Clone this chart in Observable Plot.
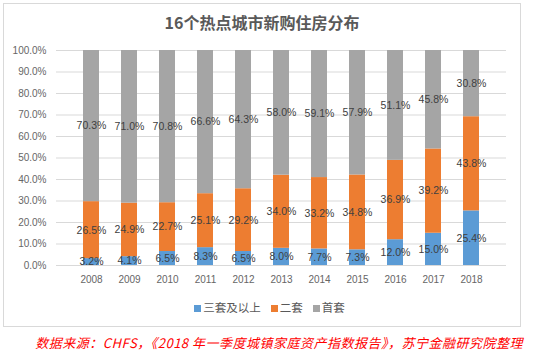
<!DOCTYPE html>
<html>
<head>
<meta charset="utf-8">
<script src="https://cdn.jsdelivr.net/npm/d3@7"></script>
<script src="https://cdn.jsdelivr.net/npm/@observablehq/plot@0.6"></script>
<style>
  html, body { margin: 0; padding: 0; background: #fff; }
  #wrap { position: relative; width: 535px; height: 353px; overflow: hidden; font-family: "Liberation Sans", "Noto Sans CJK SC", sans-serif; }
  #frame { position: absolute; left: 3px; top: 3px; width: 518px; height: 324px; border: 1px solid #d9d9d9; box-sizing: border-box; }
  #title { position: absolute; left: 3px; width: 518px; top: 11px; text-align: center; font-family: "Noto Sans CJK SC", sans-serif; font-weight: bold; font-size: 16px; color: #595959; line-height: 22px; }
  #chart { position: absolute; left: 0; top: 40px; }
  #legend { position: absolute; top: 298px; left: 0; width: 535px; text-align: center; font-family: "Noto Sans CJK SC", sans-serif; font-size: 11.5px; color: #595959; line-height: 18px; padding-left: 4px; box-sizing: border-box; }
  #legend span.item { display: inline-block; margin: 0 5px; }
  #legend span.sw { display: inline-block; width: 7px; height: 7px; margin-right: 2px; vertical-align: 0px; }
  #caption { position: absolute; right: 12px; top: 334px; font-family: "Noto Sans CJK SC", sans-serif; font-style: italic; font-size: 13px; letter-spacing: 0.5px; color: #ff0000; line-height: 18px; white-space: nowrap; }
</style>
</head>
<body>
<div id="wrap">
  <div id="frame"></div>
  <div id="title">16个热点城市新购住房分布</div>
  <div id="chart"></div>
  <div id="legend"></div>
  <div id="caption">数据来源：CHFS，《2018 年一季度城镇家庭资产指数报告》，苏宁金融研究院整理</div>
</div>
<script>
const years = ["2008","2009","2010","2011","2012","2013","2014","2015","2016","2017","2018"];
const thirdPlus = [3.2, 4.1, 6.5, 8.3, 6.5, 8.0, 7.7, 7.3, 12.0, 15.0, 25.4];
const second = [26.5, 24.9, 22.7, 25.1, 29.2, 34.0, 33.2, 34.8, 36.9, 39.2, 43.8];
const first = [70.3, 71.0, 70.8, 66.6, 64.3, 58.0, 59.1, 57.9, 51.1, 45.8, 30.8];
const seriesNames = ["三套及以上", "二套", "首套"];
const seriesColors = ["#5b9bd5", "#ed7d31", "#a5a5a5"];
const yTicks = [0, 10, 20, 30, 40, 50, 60, 70, 80, 90, 100];

const seriesValues = [thirdPlus, second, first];
const data = [];
seriesNames.forEach((s, si) => {
  years.forEach((y, i) => data.push({year: y, series: s, value: seriesValues[si][i]}));
});

const fmt = v => v.toFixed(1) + "%";

const chart = Plot.plot({
  width: 535,
  height: 255,
  marginTop: 10,
  marginBottom: 30,
  marginLeft: 56,
  marginRight: 29,
  style: { fontFamily: "Liberation Sans, Noto Sans CJK SC, sans-serif", fontSize: "10px", color: "#666666", background: "transparent" },
  x: { domain: years, padding: 0.585, tickSize: 0, tickPadding: 10, label: null },
  y: { domain: [0, 100], ticks: yTicks, tickSize: 0, tickPadding: 10, tickFormat: fmt, label: null },
  color: { domain: seriesNames, range: seriesColors },
  marks: [
    Plot.ruleY(yTicks, { stroke: "#d9d9d9", strokeWidth: 1 }),
    Plot.barY(data, Plot.stackY({ x: "year", y: "value", fill: "series", order: seriesNames })),
    Plot.text(data, Plot.stackY({ x: "year", y: "value", z: "series", order: seriesNames, text: d => fmt(d.value), fill: "#404040", fontSize: 10.5 }))
  ]
});
document.getElementById("chart").appendChild(chart);

const legend = document.getElementById("legend");
seriesNames.forEach((s, i) => {
  const item = document.createElement("span");
  item.className = "item";
  const sw = document.createElement("span");
  sw.className = "sw";
  sw.style.background = seriesColors[i];
  item.appendChild(sw);
  item.appendChild(document.createTextNode(s));
  legend.appendChild(item);
});
</script>
</body>
</html>
